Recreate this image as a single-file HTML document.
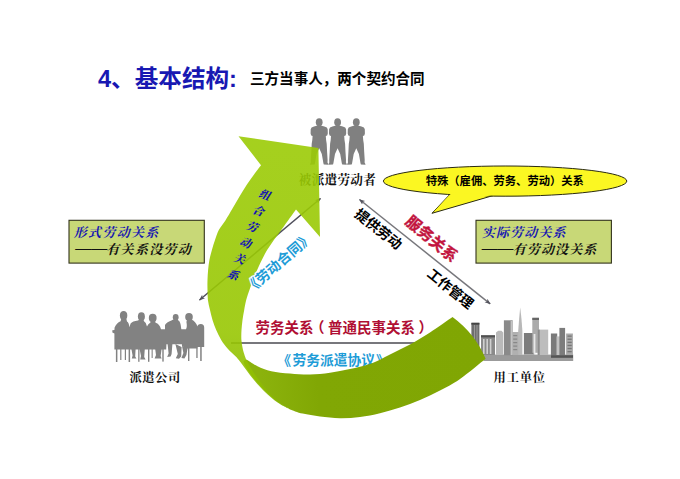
<!DOCTYPE html>
<html lang="zh-CN">
<head>
<meta charset="utf-8">
<title>4、基本结构</title>
<style>
html,body{margin:0;padding:0;background:#fff;}
body{width:680px;height:479px;overflow:hidden;position:relative;}
svg{position:absolute;left:0;top:0;display:block;}
.sans{font-family:"Liberation Sans","Noto Sans CJK SC",sans-serif;font-weight:bold;}
.kai{font-family:"Liberation Serif","Noto Serif CJK SC",serif;font-weight:bold;}
</style>
</head>
<body>
<svg width="680" height="479" viewBox="0 0 680 479">
<defs>
<linearGradient id="gl" gradientUnits="userSpaceOnUse" x1="280" y1="140" x2="250" y2="420">
<stop offset="0" stop-color="#9bcb05"/><stop offset="0.7" stop-color="#98c703"/><stop offset="0.85" stop-color="#90be02"/><stop offset="1" stop-color="#7fae00"/>
</linearGradient>
<linearGradient id="gd" gradientUnits="userSpaceOnUse" x1="260" y1="360" x2="480" y2="340">
<stop offset="0" stop-color="#8bb20c"/><stop offset="0.25" stop-color="#81a704"/><stop offset="1" stop-color="#80a603"/>
</linearGradient>
<linearGradient id="gd2" gradientUnits="userSpaceOnUse" x1="300" y1="368" x2="310" y2="425">
<stop offset="0" stop-color="#9cc322" stop-opacity="0.5"/><stop offset="0.4" stop-color="#8fc022" stop-opacity="0"/><stop offset="1" stop-color="#789f06" stop-opacity="0.3"/>
</linearGradient>
<marker id="ah" viewBox="0 0 10 10" refX="9" refY="5" markerWidth="6" markerHeight="6" orient="auto-start-reverse" markerUnits="userSpaceOnUse">
<path d="M0,1.2 L10,5 L0,8.8 L2.5,5Z" fill="#55555f"/>
</marker>
</defs>

<!-- title -->
<text class="sans" x="98" y="86.6" font-size="23.6" fill="#1818b2">4、基本结构:</text>
<text class="sans" x="250" y="84.4" font-size="14.55" fill="#000">三方当事人，两个契约合同</text>

<!-- silhouettes + labels (under arrow) -->
<g fill="#808080"><path d="M317.7,125.6 L314.0,126.4 L311.6,127.4 L310.7,129.2 L310.6,133.6 L311.2,135.4 L312.6,136.0 L312.3,140.0 L311.7,143.8 L311.3,152.0 L310.8,160.0 L310.9,162.6 L310.0,164.2 L310.2,164.8 L314.6,164.6 L315.0,163.2 L316.6,154.0 L319.2,148.2 L321.8,154.0 L323.4,163.2 L323.8,164.6 L328.2,164.8 L328.4,164.2 L327.5,162.6 L327.6,160.0 L327.1,152.0 L326.7,143.8 L326.1,140.0 L325.8,136.0 L327.2,135.4 L327.8,133.6 L327.7,129.2 L326.8,127.4 L324.4,126.4 L320.7,125.6Z"/><ellipse cx="319.2" cy="122.2" rx="3.4" ry="3.9"/><rect x="317.6" y="124" width="3.2" height="3"/><path d="M336.1,125.6 L332.4,126.4 L330.0,127.4 L329.1,129.2 L329.0,133.6 L329.6,135.4 L331.0,136.0 L330.7,140.0 L330.1,143.8 L329.7,152.0 L329.2,160.0 L329.3,162.6 L328.4,164.2 L328.6,164.8 L333.0,164.6 L333.4,163.2 L335.0,154.0 L337.6,148.2 L340.2,154.0 L341.8,163.2 L342.2,164.6 L346.6,164.8 L346.8,164.2 L345.9,162.6 L346.0,160.0 L345.5,152.0 L345.1,143.8 L344.5,140.0 L344.2,136.0 L345.6,135.4 L346.2,133.6 L346.1,129.2 L345.2,127.4 L342.8,126.4 L339.1,125.6Z"/><ellipse cx="337.6" cy="122.2" rx="3.4" ry="3.9"/><rect x="336.0" y="124" width="3.2" height="3"/><path d="M354.8,125.6 L351.1,126.4 L348.7,127.4 L347.8,129.2 L347.7,133.6 L348.3,135.4 L349.7,136.0 L349.4,140.0 L348.8,143.8 L348.4,152.0 L347.9,160.0 L348.0,162.6 L347.1,164.2 L347.3,164.8 L351.7,164.6 L352.1,163.2 L353.7,154.0 L356.3,148.2 L358.9,154.0 L360.5,163.2 L360.9,164.6 L365.3,164.8 L365.5,164.2 L364.6,162.6 L364.7,160.0 L364.2,152.0 L363.8,143.8 L363.2,140.0 L362.9,136.0 L364.3,135.4 L364.9,133.6 L364.8,129.2 L363.9,127.4 L361.5,126.4 L357.8,125.6Z"/><ellipse cx="356.3" cy="122.2" rx="3.4" ry="3.9"/><rect x="354.7" y="124" width="3.2" height="3"/></g>
<text class="kai" x="298.8" y="184.3" font-size="12.6" fill="#111" letter-spacing="0.3">被派遣劳动者</text>
<g fill="#828282">
<ellipse cx="123.6" cy="315.6" rx="3.7" ry="4.5"/>
<ellipse cx="141.4" cy="316.6" rx="3.5" ry="4.3"/>
<ellipse cx="152.7" cy="318" rx="3.9" ry="4.2"/>
<ellipse cx="175.7" cy="317.2" rx="2.9" ry="3.2"/>
<ellipse cx="189" cy="316.9" rx="3.8" ry="4"/>
<path d="M121.2,319 L126.4,319 L127,321.4 Q129,322.6 129.4,327.3 L130.6,323.6 Q132.5,321.2 138,320.6 L139.6,319.4 L143.4,319.6 L144,321.2 Q146.6,322.6 147,326.6 Q147.6,324.4 150.4,322.6 L151,321 L155,321 L155.6,322.8 Q159.6,324 161,329.2 L165,329.2 L165,325 Q166.4,322 171.4,320.4 L173.8,319.2 L177.6,319.2 L178.4,320.6 Q180.6,321.4 181.2,328.6 L181.4,329.2 L186,329.2 Q187.4,327 186.4,321.8 L187.4,319.6 L191.6,319.6 Q196,322 197.4,326.6 Q197.6,324.2 200.8,324 Q204.2,324.2 204.2,327.5 L204.2,347 L197.4,347 L197.4,348.4 L186,348.4 L182,346 L181.9,344.2 L166.4,344.2 L166.2,349.4 L114.4,349.4 L114.4,333.4 L112.4,332.6 L112.3,330.2 L114.4,330 L114.6,327.6 Q116.4,322.8 120.6,321.2 Z"/>
<rect x="115.9" y="349" width="1.5" height="13"/><rect x="120.2" y="349" width="1.2" height="11"/><rect x="124.8" y="349" width="1.2" height="11"/><rect x="128.6" y="349" width="1.5" height="13"/>
<path d="M131.4,349 L135.6,349 L135.2,356.5 L136.4,358.6 L131.8,358.4 L132.6,355.5Z"/>
<rect x="138.2" y="349" width="1.3" height="12.8"/>
<path d="M139.6,349 L144.8,349 L144.2,357 L145.6,359.6 L140.2,359.4 L141,356Z"/>
<rect x="148" y="349" width="1.4" height="12.8"/><rect x="151.6" y="349" width="1.1" height="9"/>
<path d="M155.2,349 L161.6,349 L160.6,356 L161.6,358.6 L154.6,358.4 L156,355Z"/>
<rect x="162.3" y="349" width="1.4" height="12.6"/>
<path d="M167.6,344 L172.4,344 L171.6,354 L170.6,356.6 L167.2,357 L168.6,353.4Z"/>
<path d="M175.4,344 L181.6,347 L181.2,356.4 L179,358.8 L175.8,358.2 L177.8,354Z"/>
<path d="M182,346 L187.6,348 L186.4,355 L184.4,358.4 L181.4,358 L183.4,353Z"/>
<rect x="188" y="348" width="1.4" height="13"/><rect x="196.3" y="346.5" width="1.3" height="11.5"/><rect x="200.2" y="346.5" width="1.5" height="14.5"/>
</g>
<text class="kai" x="129.4" y="381.6" font-size="12.3" fill="#111" letter-spacing="0.55">派遣公司</text>
<g>
<rect x="483.6" y="354.6" width="89.6" height="6.4" fill="#9b9b9b"/>
<rect x="551" y="355.2" width="22" height="2.6" fill="#555"/>
<rect x="471.4" y="322.8" width="8" height="33" fill="#6e6e6e"/>
<rect x="471.4" y="322.8" width="8" height="1.8" fill="#444"/>
<rect x="474" y="325" width="1" height="30" fill="#999"/><rect x="476.5" y="325" width="1" height="30" fill="#999"/>
<rect x="481" y="335.6" width="14" height="19.4" fill="#8a8a8a"/>
<rect x="481" y="335.2" width="14" height="2.2" fill="#505050"/>
<rect x="483" y="339" width="1.6" height="15" fill="#d0d0d0"/><rect x="486.4" y="339" width="1.6" height="15" fill="#d0d0d0"/><rect x="489.8" y="339" width="1.6" height="15" fill="#d0d0d0"/>
<path d="M496,355 V332.5 L498.2,330.8 H501.5 L503.2,332.5 V355Z" fill="#b9b9b9"/>
<rect x="503.9" y="320.3" width="8.8" height="35" fill="#8a8a8a"/>
<rect x="510.6" y="321" width="2.1" height="34" fill="#c4c4c4"/>
<rect x="512.4" y="332" width="8.4" height="23" fill="#b0b0b0"/>
<rect x="513.2" y="335" width="4" height="1.2" fill="#888"/><rect x="513.2" y="338.5" width="4" height="1.2" fill="#888"/><rect x="513.2" y="342" width="4" height="1.2" fill="#888"/><rect x="513.2" y="345.5" width="4" height="1.2" fill="#888"/><rect x="513.2" y="349" width="4" height="1.2" fill="#888"/>
<path d="M520.2,307.6 L521.4,318 L522.4,331 L522.4,355 L518.2,355 L518.2,331 L519.2,318Z" fill="#b8b8b8"/>
<rect x="523.9" y="333" width="10.4" height="21.5" fill="#7c7c7c"/>
<rect x="532.3" y="317.8" width="6.7" height="35" fill="#ababab"/>
<rect x="532.3" y="317.8" width="6.7" height="2.2" fill="#666"/>
<rect x="533.6" y="334" width="1.8" height="20" fill="#e8e8e8"/>
<rect x="537.7" y="329.6" width="10.5" height="25.4" fill="#bdbdbd"/>
<rect x="537.7" y="329.6" width="2" height="25.4" fill="#8c8c8c"/>
<rect x="550.9" y="333.5" width="6.3" height="21.5" fill="#7a7a7a"/>
<rect x="556.5" y="336.4" width="4" height="18.6" fill="#c2c2c2"/>
<rect x="559.4" y="327.9" width="5.7" height="27.1" fill="#7c7c7c"/>
<rect x="566.1" y="333.5" width="6.8" height="21.5" fill="#a9a9a9"/>
<rect x="567.5" y="335.5" width="4.2" height="1.3" fill="#777"/><rect x="567.5" y="338.6" width="4.2" height="1.3" fill="#777"/><rect x="567.5" y="341.7" width="4.2" height="1.3" fill="#777"/><rect x="567.5" y="344.8" width="4.2" height="1.3" fill="#777"/><rect x="567.5" y="347.9" width="4.2" height="1.3" fill="#777"/><rect x="567.5" y="351" width="4.2" height="1.3" fill="#777"/>
</g>
<text class="kai" x="493.6" y="381.6" font-size="12.3" fill="#111" letter-spacing="0.75">用工单位</text>

<!-- horizontal line -->
<line x1="231" y1="343" x2="470" y2="343" stroke="#4a4a50" stroke-width="1.6"/>
<!-- diag lines -->
<line x1="320.5" y1="198.5" x2="199.5" y2="300" stroke="#50505c" stroke-width="1.5" marker-start="url(#ah)" marker-end="url(#ah)"/>
<line x1="359.5" y1="199.5" x2="490.2" y2="303.9" stroke="#77777c" stroke-width="1.5" marker-start="url(#ah)" marker-end="url(#ah)"/>

<!-- green arrow -->
<text class="sans" x="277.3" y="365" font-size="13.8" fill="#1e9cd7" stroke="#fff" stroke-width="2.2" paint-order="stroke" stroke-linejoin="round">《<tspan dx="1.3">劳务派遣协议</tspan><tspan dx="0.8">》</tspan></text>
<path d="M246.5,359.5C248.3,360.6 253.4,364.3 257.5,366.3 C261.6,368.3 265.9,370.1 271.3,371.3 C276.7,372.5 283.6,373.1 290.0,373.6 C296.4,374.2 303.3,374.7 310.0,374.6 C316.7,374.5 323.3,373.7 330.0,372.8 C336.7,371.9 343.3,370.5 350.0,369.0 C356.7,367.5 363.3,366.4 370.0,364.0 C376.7,361.6 383.3,357.7 390.0,354.4 C396.7,351.1 403.3,348.0 410.0,344.4 C416.7,340.8 422.9,337.1 430.0,332.5 C437.1,327.9 448.8,319.6 452.5,317.0Q475,333.5 485.6,358.8C481.3,362.2 467.6,373.7 460.0,379.0 C452.4,384.3 446.7,387.1 440.0,390.6 C433.3,394.1 426.7,397.2 420.0,400.0 C413.3,402.8 406.7,405.2 400.0,407.4 C393.3,409.6 386.7,411.6 380.0,413.2 C373.3,414.8 366.7,416.2 360.0,417.0 C353.3,417.8 346.7,418.3 340.0,418.2 C333.3,418.1 326.2,417.3 320.0,416.5 C313.8,415.7 307.6,414.8 302.6,413.6 C297.6,412.4 292.1,410.1 290.0,409.4C287.9,408.1 281.8,405.0 277.5,401.8 C273.2,398.6 268.5,394.3 264.5,390.3 C260.5,386.3 256.7,382.0 253.5,378.0 C250.3,374.0 247.2,369.3 245.5,366.5 C243.8,363.7 243.8,361.9 243.5,361.0Z" fill="url(#gd)"/>
<path d="M318.4,148.0L238.5,136.2L261.0,165.2C259.9,166.7 256.7,170.8 254.4,174.0 C252.1,177.2 249.5,180.5 247.1,184.2 C244.7,187.8 242.2,191.8 239.8,195.9 C237.4,200.0 234.9,204.5 232.5,208.6 C230.1,212.7 227.7,216.9 225.4,220.5 C223.1,224.1 220.5,226.8 218.8,230.0 C217.1,233.2 216.2,236.7 215.0,240.0 C213.8,243.3 212.8,246.7 211.9,250.0 C211.0,253.3 210.0,256.7 209.4,260.0 C208.8,263.3 208.4,266.7 208.1,270.0 C207.8,273.3 207.6,276.7 207.5,280.0 C207.4,283.3 207.4,286.7 207.5,290.0 C207.6,293.3 207.5,296.7 207.9,300.0 C208.3,303.3 209.2,306.7 210.0,310.0 C210.8,313.3 211.5,316.7 212.5,320.0 C213.5,323.3 214.8,326.7 216.2,330.0 C217.7,333.3 219.3,336.8 221.2,340.0 C223.2,343.2 225.7,346.3 228.0,349.0 C230.3,351.7 233.4,354.2 235.2,356.0 C237.0,357.8 237.0,357.7 238.8,360.0 C240.7,362.3 243.6,366.4 246.3,370.0 C249.0,373.6 251.9,377.7 255.0,381.3 C258.1,384.9 261.2,388.3 265.0,391.9 C268.8,395.4 273.4,399.7 277.6,402.6 C281.8,405.5 287.9,408.3 290.0,409.4C287.9,407.9 281.7,404.1 277.5,400.5 C273.3,396.9 268.8,392.3 265.0,388.0 C261.2,383.7 258.1,379.1 255.0,374.5 C251.9,369.9 247.9,362.8 246.5,360.5C245.9,358.8 243.8,353.4 243.0,350.0 C242.2,346.6 241.7,343.3 241.4,340.0 C241.2,336.7 241.3,333.3 241.5,330.0 C241.7,326.7 242.1,323.3 242.5,320.0 C242.9,316.7 243.6,313.3 244.2,310.0 C244.8,306.7 245.2,303.7 246.2,300.0 C247.2,296.3 248.5,292.5 250.2,287.7 C251.9,282.9 253.9,277.3 256.7,271.0 C259.5,264.7 262.9,257.1 267.1,250.1 C271.3,243.1 277.0,236.0 281.8,229.2 C286.6,222.4 293.6,212.7 296.0,209.4L320.0,237.0Z" fill="url(#gl)" opacity="0.9"/>

<!-- boxes -->
<rect x="69" y="220.3" width="135.3" height="42.8" fill="#c8d877" stroke="#33331c" stroke-width="1.1"/>
<text class="kai" x="73.8" y="236.6" font-size="13" fill="#1818b0" font-style="italic" letter-spacing="1.3">形式劳动关系</text>
<text class="kai" x="75.2" y="252.2" font-size="13" fill="#111" textLength="32" lengthAdjust="spacingAndGlyphs">——</text>
<text class="kai" x="106.3" y="254.4" font-size="13" fill="#111" font-style="italic" letter-spacing="1.3">有关系没劳动</text>

<rect x="476" y="220.3" width="135.4" height="42.8" fill="#c8d877" stroke="#33331c" stroke-width="1.1"/>
<text class="kai" x="482" y="236.6" font-size="13" fill="#1818b0" font-style="italic" letter-spacing="1.1">实际劳动关系</text>
<text class="kai" x="481.8" y="252.2" font-size="13" fill="#111" textLength="31.6" lengthAdjust="spacingAndGlyphs">——</text>
<text class="kai" x="512.8" y="254.4" font-size="13" fill="#111" font-style="italic" letter-spacing="1.1">有劳动没关系</text>

<!-- callout -->
<path d="M451,193.2 L432,213.3 L495,195" fill="#fbf722" stroke="#2a2a10" stroke-width="1" stroke-linejoin="miter"/>
<ellipse cx="505.1" cy="181.1" rx="121.7" ry="15.1" fill="#fbf722" stroke="#2a2a10" stroke-width="1"/>
<path d="M452,192.6 L434,211.6 L493,194.4Z" fill="#fbf722"/>
<text class="sans" x="504.8" y="185.3" font-size="11.3" text-anchor="middle" fill="#000">特殊（雇佣、劳务、劳动）关系</text>

<!-- arrow label -->
<g class="kai" font-size="11.2" fill="#1414b4" style="font-weight:900"><text x="0" y="0" transform="translate(265.4,195.1) rotate(21) skewX(-12)" text-anchor="middle" dominant-baseline="central">组</text><text x="0" y="0" transform="translate(259.1,211.1) rotate(21) skewX(-12)" text-anchor="middle" dominant-baseline="central">合</text><text x="0" y="0" transform="translate(252.8,227.1) rotate(21) skewX(-12)" text-anchor="middle" dominant-baseline="central">劳</text><text x="0" y="0" transform="translate(246.4,243.1) rotate(21) skewX(-12)" text-anchor="middle" dominant-baseline="central">动</text><text x="0" y="0" transform="translate(240.1,259.1) rotate(21) skewX(-12)" text-anchor="middle" dominant-baseline="central">关</text><text x="0" y="0" transform="translate(233.8,275.1) rotate(21) skewX(-12)" text-anchor="middle" dominant-baseline="central">系</text></g>

<!-- rotated labels -->
<text class="sans" font-size="14" fill="#1e9cd7" stroke="#fff" stroke-width="2.4" paint-order="stroke" stroke-linejoin="round" text-anchor="middle" transform="translate(278.8,262.8) rotate(-41)" dominant-baseline="central">《劳动合同》</text>
<text class="sans" font-size="13.9" fill="#000" text-anchor="middle" transform="translate(378.4,229) rotate(38.3)" dominant-baseline="central">提供劳动</text>
<text class="sans" font-size="15.5" fill="#c2143e" stroke="#c2143e" stroke-width="0.35" text-anchor="middle" transform="translate(431.6,238.8) rotate(40)" dominant-baseline="central">服务关系</text>
<text class="sans" font-size="13.6" fill="#000" text-anchor="middle" transform="translate(450.3,288.9) rotate(38.6)" dominant-baseline="central">工作管理</text>

<text class="sans" x="255.4" y="332.9" font-size="14.5" fill="#b00f34">劳务关系<tspan dx="-3.4">（</tspan><tspan dx="3.4">普通民事关系</tspan><tspan dx="3.6">）</tspan></text>
</svg>
</body>
</html>
